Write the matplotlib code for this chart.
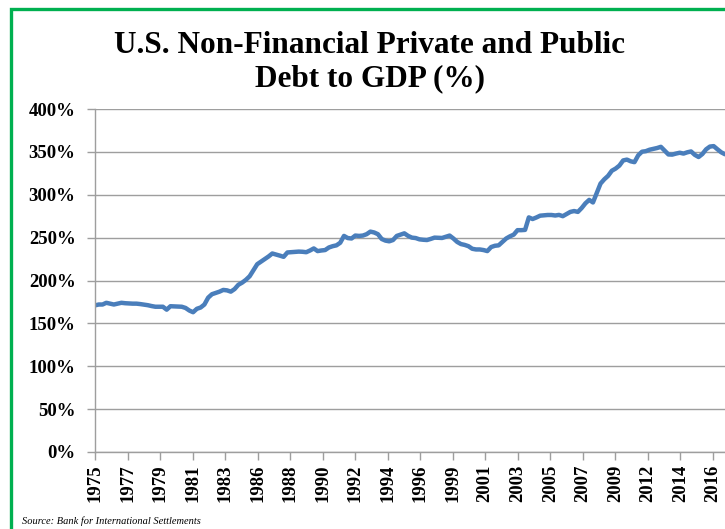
import numpy as np
import matplotlib
matplotlib.use("Agg")
import matplotlib.pyplot as plt
from matplotlib.patches import Rectangle

# quarterly debt to GDP (%), 1975Q1 .. 2016Q4
start_year = 1975
debt_gdp = [
    171, 172, 172, 174,          # 1975
    173, 172, 173, 174,          # 1976
    173.5, 173.2, 173, 173,      # 1977
    172.5, 171.8, 171.2, 170.2,  # 1978
    169.4, 169.4, 169.4, 166,    # 1979
    170, 169.8, 169.6, 169.4,    # 1980
    168, 165, 163, 167,          # 1981
    168.5, 172, 180, 184,        # 1982
    185.5, 187, 189, 188.5,      # 1983
    187, 190, 195, 197.5,        # 1984
    200.8, 205, 212, 219,        # 1985
    222, 225, 228, 231.5,        # 1986
    230.3, 229, 227.6, 232.7,    # 1987
    233, 233.2, 233.7, 233.5,    # 1988
    233, 235, 237.4, 234.3,      # 1989
    235, 235.5, 238.5, 240,      # 1990
    241, 244, 252, 249.5,        # 1991
    249, 252.4, 252, 252.4,      # 1992
    254, 257, 256, 254,          # 1993
    248.4, 246.5, 245.7, 247.2,  # 1994
    252, 253.5, 255, 252,        # 1995
    250, 249.5, 248, 247.5,      # 1996
    247.2, 248.5, 250, 249.8,    # 1997
    249.6, 251, 252.4, 249,      # 1998
    245, 242.5, 241.5, 240,      # 1999
    237, 236.2, 236.2, 235.5,    # 2000
    234.3, 239, 240.5, 241,      # 2001
    245, 249, 251.5, 253.5,      # 2002
    258.7, 258.7, 259, 273.6,    # 2003
    271.7, 273.5, 275.6, 276,    # 2004
    276.4, 276.4, 275.8, 276.5,  # 2005
    275, 277.5, 280, 281,        # 2006
    280, 284.5, 290, 294,        # 2007
    291, 302, 313, 318,          # 2008
    322, 328, 330.5, 334,        # 2009
    340, 341, 339, 338,          # 2010
    346, 350.2, 350.8, 352.5,    # 2011
    353.5, 354.5, 355.9, 351.5,  # 2012
    347, 346.8, 348, 349,        # 2013
    348, 349.5, 350.5, 346.5,    # 2014
    344, 347.5, 353, 356.2,      # 2015
    356.7, 353, 349.5, 347.2,    # 2016
]
year_labels = ["1975", "1977", "1979", "1981", "1983", "1986", "1988", "1990",
               "1992", "1994", "1996", "1999", "2001", "2003", "2005", "2007",
               "2009", "2012", "2014", "2016"]
y_ticks = [0, 50, 100, 150, 200, 250, 300, 350, 400]

t = start_year + np.arange(len(debt_gdp)) / 4.0
tick_pos = start_year + np.arange(len(year_labels)) * 2.155

fig = plt.figure(figsize=(7.25, 5.29), dpi=100)
ax = fig.add_axes([95 / 725, 1 - 452 / 529, 1 - 95 / 725, (452 - 109) / 529])

ax.plot(t, debt_gdp, color="#4a7ebb", lw=3.2, solid_capstyle="round")

ax.set_xlim(t[0], t[-1])
ax.set_ylim(0, 400)
ax.set_yticks(y_ticks)
ax.set_yticklabels([f"{v}%" for v in y_ticks])
ax.set_xticks(tick_pos)
ax.set_xticklabels(year_labels, rotation=90)

ax.grid(axis="y", color="#9e9e9e", lw=1)
ax.set_axisbelow(True)
for s in ["top", "right"]:
    ax.spines[s].set_visible(False)
for s in ["left", "bottom"]:
    ax.spines[s].set_color("#9e9e9e")
    ax.spines[s].set_linewidth(1)
ax.tick_params(axis="both", colors="#9e9e9e", length=6, width=1)
for lab in ax.get_xticklabels() + ax.get_yticklabels():
    lab.set_color("black")
    lab.set_fontfamily("Liberation Serif")
    lab.set_fontweight("bold")
    lab.set_fontsize(13.5)
ax.tick_params(axis="y", pad=8)
ax.tick_params(axis="x", pad=3)

fig.text(0.51, 1 - 62 / 529, "U.S. Non-Financial Private and Public\nDebt to GDP (%)",
         ha="center", va="center", fontfamily="Liberation Serif",
         fontweight="bold", fontsize=22.5, linespacing=1.18)
fig.text(22 / 725, 1 - 521 / 529, "Source: Bank for International Settlements",
         ha="left", va="center", fontfamily="Liberation Serif",
         style="italic", fontsize=7.5)

# green frame (left and top edges visible)
fig.add_artist(Rectangle((10.5 / 725, -0.1), 1.0, 1.1 - 9 / 529,
                         transform=fig.transFigure, fill=False,
                         edgecolor="#00b050", lw=2.4, clip_on=False))

fig.savefig("out.png", dpi=100)
